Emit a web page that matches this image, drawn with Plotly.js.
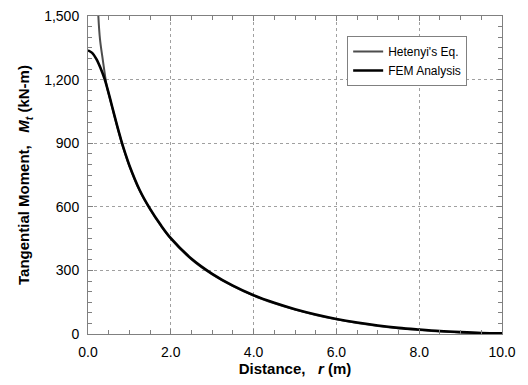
<!DOCTYPE html>
<html>
<head>
<meta charset="utf-8">
<script src="https://cdn.plot.ly/plotly-3.0.1.min.js"></script>
<style>html,body{margin:0;padding:0;background:#fff;}#chart{width:528px;height:385px;}</style>
</head>
<body>
<div id="chart"></div>
<script>
const femR = [0, 0.1, 0.2, 0.3, 0.4, 0.5, 0.6, 0.7, 0.8, 0.9, 1.0, 1.25, 1.5, 1.75, 2.0, 2.5, 3.0, 3.5, 4.0, 4.5, 5.0, 5.5, 6.0, 6.5, 7.0, 7.5, 8.0, 8.5, 9.0, 9.5, 10.0];
const femM = [1338, 1326, 1298, 1256, 1203, 1135, 1060, 985, 915, 852, 795, 678, 590, 516, 452, 355, 284, 228, 183, 147, 117, 92, 71, 54, 40, 29, 21, 14, 9, 5, 3];
const hetR = [0.23, 0.25, 0.29, 0.36, 0.45, 0.5, 0.6, 0.7, 0.8, 0.9, 1.0, 1.25, 1.5, 1.75, 2.0, 2.5, 3.0, 3.5, 4.0, 4.5, 5.0, 5.5, 6.0, 6.5, 7.0, 7.5, 8.0, 8.5, 9.0, 9.5, 10.0];
const hetM = [1620, 1500, 1390, 1290, 1172, 1132, 1057, 982, 912, 849, 792, 675, 587, 513, 449, 352, 281, 226, 181, 145, 115, 90, 69, 52, 38, 27, 19, 12, 7, 4, 2];
const xTicks = [0, 2, 4, 6, 8, 10];
const yTicks = [0, 300, 600, 900, 1200, 1500];

const traces = [
  {x: hetR, y: hetM, name: "Hetenyi's Eq.", mode: 'lines', line: {color: '#4d4d4d', width: 2, shape: 'spline', smoothing: 1}},
  {x: femR, y: femM, name: 'FEM Analysis', mode: 'lines', line: {color: '#000000', width: 2.6, shape: 'spline', smoothing: 1}}
];

const FONT = 'Liberation Sans, Arial, sans-serif';
const axisCommon = {
  showline: true, linecolor: '#808080', linewidth: 1, mirror: 'ticks',
  ticks: 'inside', ticklen: 5, tickcolor: '#808080', tickwidth: 1,
  showgrid: true, gridcolor: '#a0a0a0', griddash: 'dot', gridwidth: 1,
  zeroline: false, ticklabelstandoff: 5,
  tickfont: {family: FONT, size: 14, color: '#000'}
};

const layout = {
  width: 528, height: 385,
  margin: {l: 88, r: 26, t: 16, b: 51},
  paper_bgcolor: '#fff', plot_bgcolor: '#fff',
  showlegend: true,
  legend: {
    x: 0.626, y: 0.937, xanchor: 'left', yanchor: 'top',
    bgcolor: '#fff', bordercolor: '#808080', borderwidth: 1,
    font: {family: FONT, size: 12, color: '#000'},
    tracegroupgap: 0
  },
  xaxis: Object.assign({}, axisCommon, {
    range: [0, 10], tickvals: xTicks, ticktext: xTicks.map(v => v.toFixed(1)),
    minor: {dtick: 0.5, ticks: 'inside', ticklen: 4, tickcolor: '#808080', showgrid: false},
    title: {text: '<b>Distance,   <i>r</i> (m)</b>', standoff: 4,
      font: {family: FONT, size: 15, color: '#000'}}
  }),
  yaxis: Object.assign({}, axisCommon, {
    range: [0, 1500], tickvals: yTicks, ticktext: yTicks.map(v => v.toLocaleString('en-US')),
    minor: {dtick: 50, ticks: 'inside', ticklen: 4, tickcolor: '#808080', showgrid: false},
    title: {text: '<b>Tangential Moment,   <i>M</i><sub><i>t</i></sub> (kN-m)</b>', standoff: 10,
      font: {family: FONT, size: 15, color: '#000'}}
  })
};

Plotly.newPlot('chart', traces, layout, {displayModeBar: false, staticPlot: true});
</script>
</body>
</html>
